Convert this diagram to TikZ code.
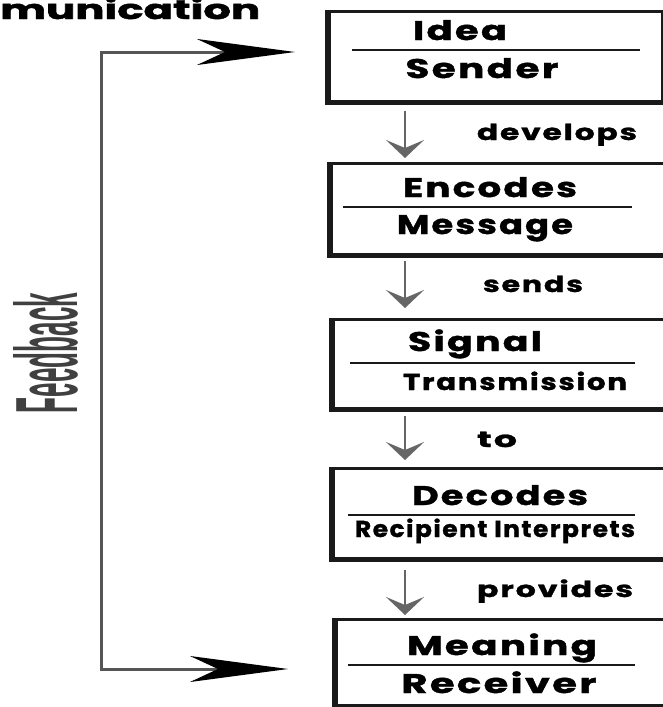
\documentclass[tikz,border=0pt]{standalone}
\usepackage{fontspec}
\usepackage{graphicx}
\usetikzlibrary{arrows.meta}
\newfontfamily\gf{Poppins}[LetterSpace=6, BoldFeatures={FakeBold=1.2}]
\newfontfamily\gfn{Poppins}[BoldFeatures={FakeBold=1.5}]
\newfontfamily\lsf{Liberation Sans}
\newcommand{\fitw}[2]{\resizebox{#1pt}{\height}{#2}}
\definecolor{boxc}{HTML}{1A1A1A}
\definecolor{arrc}{HTML}{666666}
\definecolor{fbc}{HTML}{555555}
\definecolor{fbt}{HTML}{404040}
\begin{document}
\begin{tikzpicture}[x=1pt,y=-1pt,
  boxnode/.style={draw=boxc, line width=2.5pt, anchor=north west, inner sep=0pt, minimum width=#1},
  boxnode/.default=380pt,
  thickl/.style={draw=boxc, line width=6pt},
  thickb/.style={draw=boxc, line width=4pt},
  divider/.style={draw=boxc, line width=1.8pt},
  ttl/.style={anchor=base, inner sep=0pt, font=\gf\bfseries\fontsize{27}{31}\selectfont},
  ttlsmall/.style={anchor=base, inner sep=0pt, font=\gf\bfseries\fontsize{23}{27}\selectfont},
  lbl/.style={anchor=base, inner sep=0pt, font=\gf\bfseries\fontsize{22}{26}\selectfont},
  varrow/.style={draw=arrc, line width=2.5pt, -{Stealth[length=18pt, width=38pt, inset=8pt]}},
  fbarrow/.style={draw=fbc, line width=3pt,
     {Stealth[length=98pt, width=26pt, inset=28pt, color=black]}-{Stealth[length=98pt, width=26pt, inset=28pt, color=black]}}
]
\clip (0,0) rectangle (663,707);
\fill[white] (0,0) rectangle (663,707);

% title fragment
\node[anchor=base west, inner sep=0pt, font=\gfn\bfseries\fontsize{27}{30}\selectfont] (title) at (0,19) {\fitw{260}{munication}};

% boxes
\node[boxnode=333pt, minimum height=90pt] (b1) at (328,10) {};
\node[boxnode, minimum height=91pt] (b2) at (330,162) {};
\node[boxnode, minimum height=89pt] (b3) at (332,318) {};
\node[boxnode, minimum height=90pt] (b4) at (332,467) {};
\node[boxnode, minimum height=86pt] (b5) at (335,618) {};

\foreach \b in {b1,b2,b3,b4,b5}{
  \draw[thickl] (\b.north west) -- (\b.south west);
  \draw[thickb] ([xshift=-3pt]\b.south west) -- (\b.south east);
}

% dividers
\coordinate (d1l) at (352,50);  \coordinate (d1r) at (640,50);
\coordinate (d2l) at (343,207); \coordinate (d2r) at (632,207);
\coordinate (d3l) at (350,363); \coordinate (d3r) at (635,363);
\coordinate (d4l) at (348,515); \coordinate (d4r) at (635,515);
\coordinate (d5l) at (348,665); \coordinate (d5r) at (635,665);
\draw[divider] (d1l) -- (d1r);
\draw[divider] (d2l) -- (d2r);
\draw[divider] (d3l) -- (d3r);
\draw[divider] (d4l) -- (d4r);
\draw[divider] (d5l) -- (d5r);

% box texts
\node[ttl] (t1a) at (460,40) {\fitw{94}{Idea}};
\node[ttl] (t1b) at (482,78) {\fitw{153}{Sender}};
\node[ttl] (t2a) at (490,197) {\fitw{174}{Encodes}};
\node[ttl] (t2b) at (485,234) {\fitw{176}{Message}};
\node[ttl] (t3a) at (475,351) {\fitw{134}{Signal}};
\node[ttlsmall] (t3b) at (515,390) {\fitw{224}{Transmission}};
\node[ttl] (t4a) at (500,505) {\fitw{176}{Decodes}};
\node[ttlsmall] (t4b) at (495,537) {\fitw{280}{Recipient Interprets}};
\node[ttl] (t5a) at (502,655) {\fitw{190}{Meaning}};
\node[ttl] (t5b) at (499,693) {\fitw{195}{Receiver}};

% vertical arrows
\coordinate (ax) at (405,0);
\draw[varrow, shorten <=8pt, shorten >=4pt] (b1.south -| ax) -- (b2.north -| ax);
\draw[varrow, shorten <=5pt, shorten >=10pt] (b2.south -| ax) -- (b3.north -| ax);
\draw[varrow, shorten <=6pt, shorten >=7pt] (b3.south -| ax) -- (b4.north -| ax);
\draw[varrow, shorten <=10pt, shorten >=3pt] (b4.south -| ax) -- (b5.north -| ax);

% arrow labels
\node[lbl] (l1) at (557,140) {\fitw{160}{develops}};
\node[lbl] (l2) at (533,292) {\fitw{100}{sends}};
\node[lbl] (l3) at (497,447) {\fitw{40}{to}};
\node[lbl] (l4) at (555,597) {\fitw{156}{provides}};

% feedback loop
\coordinate (ft) at (295,52);
\coordinate (fc) at (101,52);
\coordinate (fb) at (288,669);
\draw[fbarrow] (ft) -- (fc) |- (fb);
\node[rotate=90, inner sep=0pt, text=fbt] (fbtext) at (45.5,353) {\resizebox{120pt}{64pt}{\lsf\bfseries Feedback}};
\end{tikzpicture}
\end{document}
